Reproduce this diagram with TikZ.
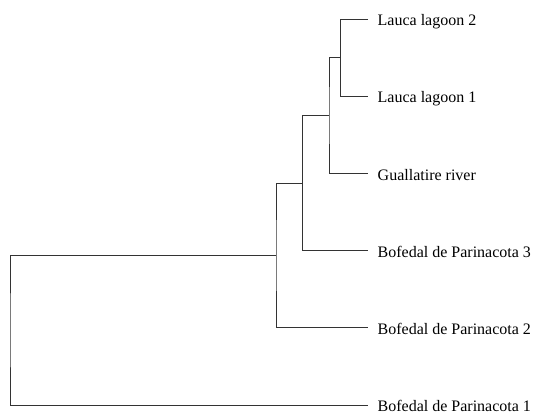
\documentclass[tikz,border=0pt]{standalone}
\usepackage{fontspec}
\setmainfont{Liberation Serif}
\usepackage{tikz}

\tikzset{
  leaf/.style={anchor=west, inner xsep=9.5pt, inner ysep=0pt, text height=13.4pt, text depth=0pt, font=\fontsize{16}{19}\selectfont},
  branch/.style={draw=black!80, line width=0.9pt}
}

\begin{document}
\begin{tikzpicture}[x=1pt,y=-1pt]
        \useasboundingbox (0,0) rectangle (536,414);
        \foreach \name/\ypos/\txt in {ll2/19/Lauca lagoon 2, ll1/96.2/Lauca lagoon 1, gr/173.4/Guallatire river, bp3/250.6/Bofedal de Parinacota 3, bp2/327.8/Bofedal de Parinacota 2, bp1/405/Bofedal de Parinacota 1}
        \node[leaf] (\name) at (368,\ypos) {\txt};
        \coordinate (n1) at (340.5,57.6);
        \coordinate (n2) at (329,115.5);
        \coordinate (n3) at (302.5,183);
        \coordinate (n4) at (276,255.4);
        \coordinate (root) at (10,330);
        \draw[branch] (ll2.west) -| (n1) |- (ll1.west);
        \draw[branch] (n1) -| (n2) |- (gr.west);
        \draw[branch] (n2) -| (n3) |- (bp3.west);
        \draw[branch] (n3) -| (n4) |- (bp2.west);
        \draw[branch] (n4) -| (root) |- (bp1.west);
\end{tikzpicture}
\end{document}
